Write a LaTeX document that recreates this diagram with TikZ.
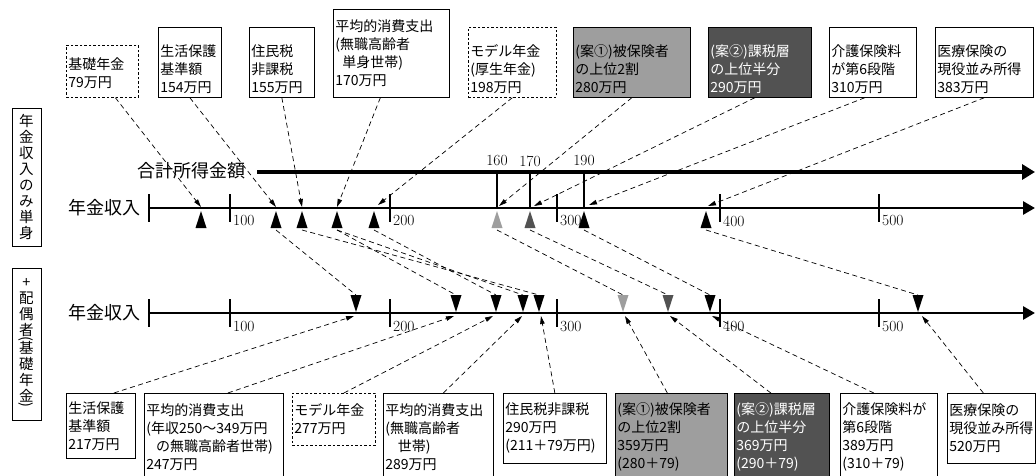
\documentclass[tikz,border=0pt]{standalone}
\usepackage{fontspec}
\newfontfamily\cjk{Noto Sans CJK JP}
\usetikzlibrary{arrows.meta}
\colorlet{lightm}{black!38}
\colorlet{darkm}{black!68}
\newcommand\vlp{\rotatebox[origin=c]{-90}{(}}
\newcommand\vrp{\rotatebox[origin=c]{-90}{)}}
\newcommand\tp{\rule{0pt}{25pt}}
\begin{document}
\begin{tikzpicture}[x=1pt,y=-1pt,
  box/.style={draw, line width=0.7pt, inner xsep=2pt, inner ysep=0pt, align=left, anchor=north west, font=\cjk\fontsize{14}{18}\selectfont},
  dbox/.style={box, dash pattern=on 2.5pt off 2pt},
  pboxa/.style={box, fill=lightm},
  pboxb/.style={box, fill=darkm, text=white},
  vbox/.style={draw, line width=0.7pt, minimum width=29, inner sep=0pt, align=center, font=\cjk\fontsize{14.5}{16}\selectfont},
  axlabel/.style={font=\cjk\fontsize{18}{20}\selectfont, anchor=east, inner sep=0pt},
  ticklab/.style={font=\fontsize{15.5}{17}\selectfont, anchor=west, inner sep=0pt},
  conn/.style={line width=0.7pt, dash pattern=on 5pt off 3.5pt, -{Triangle[length=8pt,width=4.5pt]}},
  link/.style={line width=0.7pt, dash pattern=on 5pt off 3.5pt},
  tick/.style={line width=2.4pt},
  mainax/.style={line width=2.8pt, -{Triangle[length=12pt,width=13pt]}},
  sumax/.style={line width=4.5pt, -{Triangle[length=13pt,width=15pt]}}
]
\clip (0,0) rectangle (1036,476);

% ---------- vertical side labels ----------
\node[vbox, minimum height=138] (v1) at (26.5,177) {年\\金\\収\\入\\の\\み\\単\\身};
\node[vbox, minimum height=152] (v2) at (26.5,344) {+\\配\\偶\\者\\[-8.5pt]\vlp\\[-5.5pt]基\\礎\\年\\金\\[-8.5pt]\vrp};

% ---------- top boxes ----------
\node[dbox, minimum width=72, minimum height=52, text width=68] (t79) at (66,45) {\rule{0pt}{15pt}基礎年金\\79万円};
\node[box, minimum width=63, minimum height=70, text width=59] (t154) at (158,27) {\tp 生活保護\\基準額\\154万円};
\node[box, minimum width=65, minimum height=70, text width=61] (t155) at (249,27) {\tp 住民税\\非課税\\155万円};
\node[box, minimum width=116, minimum height=88, text width=112] (t170) at (333,9) {平均的消費支出\\(無職高齢者\\\hspace*{0.5em}単身世帯)\\170万円};
\node[dbox, minimum width=88, minimum height=70, text width=84] (t198) at (468,27) {\tp モデル年金\\(厚生年金)\\198万円};
\node[pboxa, minimum width=117, minimum height=70, text width=113] (t280) at (573,27) {\tp (案①)被保険者\\の上位2割\\280万円};
\node[pboxb, minimum width=103, minimum height=70, text width=99] (t290) at (708,27) {\tp (案②)課税層\\の上位半分\\290万円};
\node[box, minimum width=87, minimum height=70, text width=83] (t310) at (829,27) {\tp 介護保険料\\が第6段階\\310万円};
\node[box, minimum width=98, minimum height=70, text width=94] (t383) at (935,27) {\tp 医療保険の\\現役並み所得\\383万円};

% ---------- bottom boxes ----------
\node[box, minimum width=69, minimum height=65, text width=65] (b217) at (66,393) {生活保護\\基準額\\217万円};
\node[box, minimum width=139, minimum height=88, text width=135] (b247) at (144,393) {平均的消費支出\\(年収250～349万円\\\hspace*{0.7em}の無職高齢者世帯)\\247万円};
\node[dbox, minimum width=83, minimum height=52, text width=79] (b277) at (292,393) {モデル年金\\277万円};
\node[box, minimum width=110, minimum height=88, text width=106] (b289) at (383,393) {平均的消費支出\\(無職高齢者\\\hspace*{0.9em}世帯)\\289万円};
\node[box, minimum width=103, minimum height=70, text width=99] (b290) at (503,393) {住民税非課税\\290万円\\(211＋79万円)};
\node[pboxa, minimum width=112, minimum height=88, text width=108] (b359) at (615,393) {(案①)被保険者\\の上位2割\\359万円\\(280＋79)};
\node[pboxb, minimum width=95, minimum height=88, text width=91] (b369) at (734,393) {(案②)課税層\\の上位半分\\369万円\\(290＋79)};
\node[box, minimum width=97, minimum height=88, text width=93] (b389) at (840,393) {介護保険料が\\第6段階\\389万円\\(310＋79)};
\node[box, minimum width=88, minimum height=70, text width=84] (b520) at (947,393) {医療保険の\\現役並み所得\\520万円};

% ---------- axes ----------
\node[axlabel] (lsum) at (246,171) {合計所得金額};
\node[axlabel] (lax1) at (141,208) {年金収入};
\node[axlabel] (lax2) at (141,313) {年金収入};
\draw[sumax] (257,172) -- (1035,172);
\draw[mainax] (149,208) -- (1035,208);
\draw[mainax] (149,313) -- (1035,313);
\draw[tick] (149,194) -- (149,222);
\draw[tick] (149,299) -- (149,327);
\foreach \x/\l in {230/100, 390/200, 557/300, 720/400, 879/500} {
  \draw[tick] (\x,194) -- (\x,222);
  \node[ticklab] (ta\l) at (\x+3,221) {\l};
  \draw[tick] (\x,299) -- (\x,327);
  \node[ticklab] (tb\l) at (\x+3,326) {\l};
}
\foreach \x/\l in {497/160, 530/170, 584/190} {
  \draw[tick] (\x,172) -- (\x,208);
  \node[font=\fontsize{15.5}{17}\selectfont, inner sep=0pt] (ts\l) at (\x,161) {\l};
}

% ---------- markers ----------
\foreach \n/\x/\c in {79/201/black, 154/276/black, 155/302/black, 170/337/black, 198/374/black, 280/497/lightm, 290/530/darkm, 310/584/black, 383/706/black} {
  \fill[\c] (\x-5.5,228) -- (\x+5.5,228) -- (\x,211) -- cycle;
  \coordinate (ub\n) at (\x,230);
}
\foreach \n/\x/\c in {217/356/black, 247/456/black, 277/496/black, 289/523/black, 290/539/black, 359/623/lightm, 369/668/darkm, 389/710/black, 520/918/black} {
  \fill[\c] (\x-5.5,295) -- (\x+5.5,295) -- (\x,312) -- cycle;
  \coordinate (dt\n) at (\x,295);
}
% arrow targets
\coordinate (u79) at (201,207);
\coordinate (u154) at (276,207);
\coordinate (u155) at (302,207);
\coordinate (u170) at (337,207);
\coordinate (u198) at (378,205);
\coordinate (u280) at (499,206);
\coordinate (u290) at (534,206);
\coordinate (u310) at (589,205);
\coordinate (u383) at (708,206);
\coordinate (d217) at (354,316);
\coordinate (d247) at (454,316);
\coordinate (d277) at (493,316);
\coordinate (d289) at (522,316);
\coordinate (d290) at (541,316);
\coordinate (d359) at (625,316);
\coordinate (d369) at (670,316);
\coordinate (d389) at (712,316);
\coordinate (d520) at (922,316);

% ---------- connectors: top boxes to first axis ----------
\draw[conn] ([xshift=13pt]t79.south) -- (u79);
\draw[conn] (t154.south) -- (u154);
\draw[conn] (t155.south) -- (u155);
\draw[conn] ([xshift=-11pt]t170.south) -- (u170);
\draw[conn] (t198.south) -- (u198);
\draw[conn] (t280.south) -- (u280);
\draw[conn] ([xshift=-5pt]t290.south) -- (u290);
\draw[conn] ([xshift=-8pt]t310.south) -- (u310);
\draw[conn] (t383.south) -- (u383);

% ---------- links between the two axes ----------
\draw[link] (ub154) -- (dt217);
\draw[link] (ub155) -- (dt290);
\draw[link] (ub170) -- (dt247);
\draw[link] (ub170) -- (dt289);
\draw[link] (ub198) -- (dt277);
\draw[link] (ub280) -- (dt359);
\draw[link] (ub290) -- (dt369);
\draw[link] (ub310) -- (dt389);
\draw[link] (ub383) -- (dt520);

% ---------- connectors: bottom boxes to second axis ----------
\draw[conn] ([xshift=13pt]b217.north) -- (d217);
\draw[conn] ([xshift=14pt]b247.north) -- (d247);
\draw[conn] ([xshift=10pt]b277.north) -- (d277);
\draw[conn] ([xshift=5pt]b289.north) -- (d289);
\draw[conn] (b290.north) -- (d290);
\draw[conn] ([xshift=-4pt]b359.north) -- (d359);
\draw[conn] ([xshift=-11pt]b369.north) -- (d369);
\draw[conn] ([xshift=-15pt]b389.north) -- (d389);
\draw[conn] ([xshift=-8pt]b520.north) -- (d520);
\end{tikzpicture}
\end{document}
